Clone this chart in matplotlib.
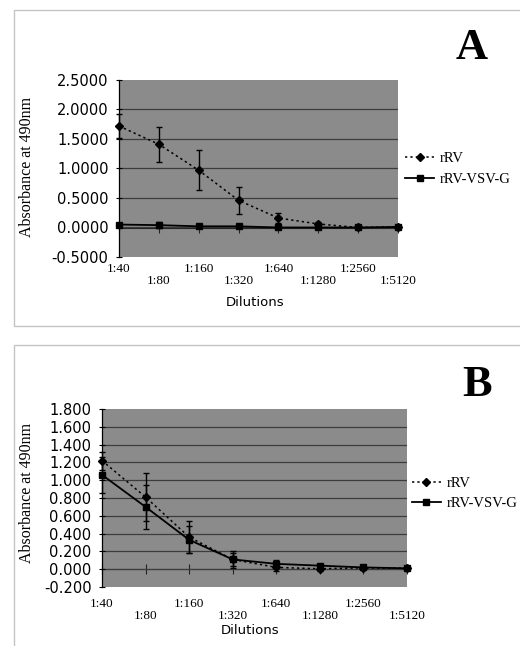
import matplotlib
matplotlib.use("Agg")
import matplotlib.pyplot as plt
import matplotlib.transforms as mtransforms
from matplotlib.patches import Rectangle
import numpy as np

dilutions = ["1:40", "1:80", "1:160", "1:320", "1:640", "1:1280", "1:2560", "1:5120"]

A_rRV = [1.72, 1.41, 0.97, 0.46, 0.16, 0.06, 0.00, 0.01]
A_rRV_err = [0.21, 0.30, 0.34, 0.23, 0.09, 0.03, 0.01, 0.01]
A_vsv = [0.05, 0.04, 0.02, 0.02, 0.00, 0.00, 0.00, 0.01]
A_vsv_err = [0.02, 0.05, 0.02, 0.02, 0.03, 0.03, 0.01, 0.01]

B_rRV = [1.22, 0.81, 0.36, 0.11, 0.02, 0.005, 0.015, 0.01]
B_rRV_err = [0.10, 0.27, 0.18, 0.10, 0.04, 0.02, 0.01, 0.005]
B_vsv = [1.06, 0.70, 0.33, 0.11, 0.06, 0.04, 0.02, 0.01]
B_vsv_err = [0.20, 0.25, 0.15, 0.07, 0.04, 0.02, 0.01, 0.005]

A_yticks = [-0.5, 0.0, 0.5, 1.0, 1.5, 2.0, 2.5]
B_yticks = [-0.2, 0.0, 0.2, 0.4, 0.6, 0.8, 1.0, 1.2, 1.4, 1.6, 1.8]

W, H = 520, 646
fig = plt.figure(figsize=(W / 100, H / 100), dpi=100)
fig.patch.set_facecolor("white")

SERIF = ["Liberation Serif", "DejaVu Serif"]
SANS = ["DejaVu Sans"]

# panel frames
fig.patches.append(Rectangle((14 / W, 1 - 326 / H), 1.0, (326 - 10) / H,
                             transform=fig.transFigure, fill=False,
                             edgecolor="#c4c4c4", linewidth=1.0))
fig.patches.append(Rectangle((14 / W, -0.05), 1.0, 1 - 345 / H + 0.05,
                             transform=fig.transFigure, fill=False,
                             edgecolor="#c4c4c4", linewidth=1.0))


def panel(rect, rv, rv_err, vsv, vsv_err, yticks, fmt, xpad, ylabel_xy,
          leg_xy, letter_xy, dil_xy):
    ax = fig.add_axes(rect)
    ax.set_facecolor("#8b8b8b")
    x = np.arange(len(dilutions))
    ax.errorbar(x, rv, yerr=rv_err, fmt="none", ecolor="black", elinewidth=1.0,
                capsize=2.5, capthick=1.0, clip_on=False, zorder=3)
    ax.errorbar(x, vsv, yerr=vsv_err, fmt="none", ecolor="black", elinewidth=1.0,
                capsize=2.5, capthick=1.0, clip_on=False, zorder=3)
    ax.plot(x, rv, linestyle=(0, (1.5, 2.0)), color="black", linewidth=1.1,
            marker="D", markersize=4, label="rRV", clip_on=False, zorder=4)
    ax.plot(x, vsv, linestyle="-", color="black", linewidth=1.3,
            marker="s", markersize=4, label="rRV-VSV-G", clip_on=False, zorder=4)
    ax.set_xlim(0, len(dilutions) - 1)
    ax.set_ylim(yticks[0], yticks[-1])
    ax.set_yticks(yticks)
    ax.set_yticklabels([fmt % v for v in yticks], fontsize=10.5, family=SANS)
    ax.grid(axis="y", color="#3c3c3c", linewidth=0.9)
    ax.set_axisbelow(True)
    gl = ax.yaxis.get_gridlines()
    gl[0].set_visible(False)
    gl[-1].set_visible(False)
    for s in ["top", "right", "bottom"]:
        ax.spines[s].set_visible(False)
    ax.spines["left"].set_color("black")
    ax.spines["left"].set_linewidth(0.9)
    ax.tick_params(axis="y", direction="inout", length=5, width=0.8, pad=5)
    ax.set_xticks(x)
    ax.set_xticklabels(dilutions, fontsize=9.5, family=SERIF)
    ax.tick_params(axis="x", length=0, pad=xpad)
    off = mtransforms.ScaledTranslation(0, -12 / 100, fig.dpi_scale_trans)
    for i, lab in enumerate(ax.get_xticklabels()):
        if i % 2 == 1:
            lab.set_transform(lab.get_transform() + off)
    # axis line at zero with crossing ticks
    zero_frac = (0 - yticks[0]) / (yticks[-1] - yticks[0])
    sec = ax.secondary_xaxis(zero_frac)
    sec.set_xticks(x)
    sec.tick_params(axis="x", direction="inout", length=7, width=0.8,
                    color="#222222", labelbottom=False, labeltop=False)
    sec.spines["bottom"].set_color("#222222")
    sec.spines["top"].set_color("#222222")
    ax.set_ylabel("Absorbance at 490nm", fontsize=11.5, family=SERIF)
    ax.yaxis.set_label_coords(*ylabel_xy)
    leg = ax.legend(loc="center left", bbox_to_anchor=leg_xy, frameon=False,
                    borderpad=0, borderaxespad=0, handlelength=2.0,
                    handletextpad=0.4, labelspacing=0.5,
                    prop={"family": SERIF, "size": 10.5})
    fig.text(letter_xy[0] / W, 1 - letter_xy[1] / H, letter, fontsize=32,
             family=SERIF, fontweight="bold", ha="center", va="center")
    fig.text(dil_xy[0] / W, 1 - dil_xy[1] / H, "Dilutions", fontsize=9.5,
             family=SANS, ha="center", va="center")
    return ax


letter = "A"
panel([119 / W, 1 - 257 / H, 279 / W, 177 / H], A_rRV, A_rRV_err, A_vsv, A_vsv_err,
      A_yticks, "%.4f", 4, (-0.30, 0.508), (1.025, 0.497), (472, 48), (255, 303))
letter = "B"
panel([102 / W, 1 - 587 / H, 305 / W, 178 / H], B_rRV, B_rRV_err, B_vsv, B_vsv_err,
      B_yticks, "%.3f", 8, (-0.22, 0.528), (1.016, 0.525), (477, 385), (250, 630))

fig.savefig("out.png", dpi=100, facecolor="white")
